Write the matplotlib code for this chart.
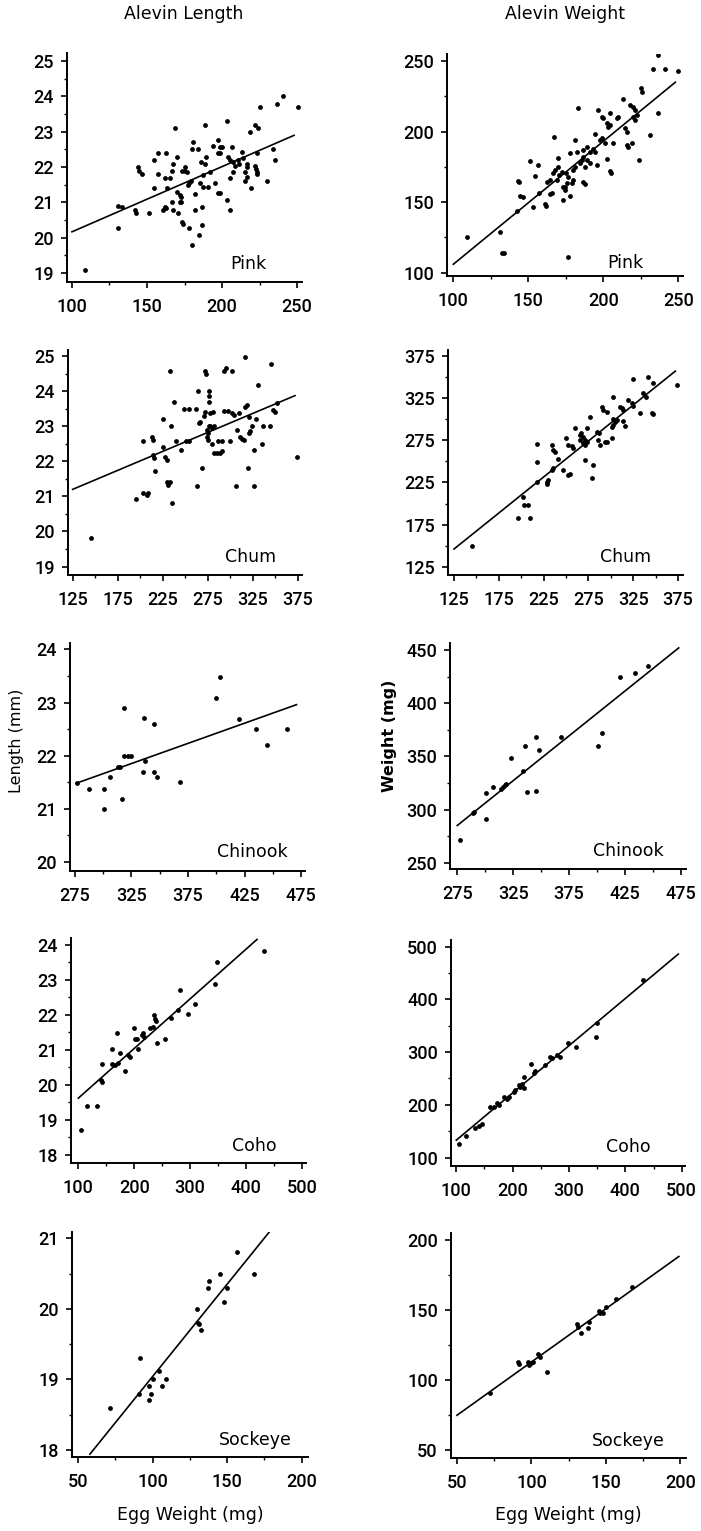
import matplotlib
matplotlib.use("Agg")
import matplotlib.pyplot as plt
from matplotlib.ticker import FixedLocator

W, H = 701, 1531

# ---------------- data ----------------
pink_len_x = [109,131,131,133.6,142,143,144,145,147,151.6,154.7,157.6,154.7,157.6,162.7,160.4,162,163.1,165.3,167.6,
              168.7,169.8,166.4,166.4,167.6,170.9,173.1,174.2,173,169.8,172,173.1,175.3,178,177,179,178.2,179.8,180.9,182,
              182,179.8,184.9,186.4,186.4,184.2,186,187,185,187.6,188.7,189.3,188.7,190.9,192,195.3,194.2,197.6,198.7,197.6,
              198.7,197.6,203.1,204.2,205,203.1,205.3,205.3,206.4,207.6,208.7,213,210.9,214,215,216.4,215,216.4,219,218.7,
              222,224,223.1,222,222.7,223,223,225,229.8,234.2,235,236.4,240.9,250.4,216.4,176.4,175.3,172,173,162,163,207.6,
              211.6,198.7,200]
pink_len_y = [19.1,20.28,20.9,20.88,20.8,20.7,22.0,21.9,21.8,20.7,21.4,21.8,22.2,22.4,22.4,20.8,20.88,21.4,21.7,22.1,
              23.1,22.3,21.9,21.0,20.8,20.7,20.45,20.4,21.0,21.3,21.2,21.9,21.9,21.55,21.5,21.6,20.28,19.8,22.7,21.25,
              20.8,22.5,20.08,20.88,20.36,22.5,22.15,21.44,21.56,21.77,23.2,22.3,22.1,21.44,21.87,21.56,22.6,21.27,21.27,22.4,
              22.4,22.78,23.3,22.3,22.2,21.08,20.8,21.7,22.58,22.15,22.04,22.43,22.2,22.25,21.87,21.73,21.6,22.0,21.4,23.0,
              23.2,23.1,22.4,22.03,21.96,21.87,21.8,23.7,21.6,22.5,22.2,23.8,24.0,23.7,22.1,21.87,22.0,21.0,21.16,21.7,20.83,21.87,
              22.1,22.58,22.58]
pink_wt_x = [108.9,131.1,132.2,133.8,143.3,144,144.4,146.7,142.2,151.1,154.4,153.3,156.7,157.3,161,162,162.2,164.4,165.5,167.1,
             166.7,167.8,170,168.9,170.7,172.2,173.3,176.7,170,177.8,174.4,175.6,177.8,175,176.7,178.9,180,180,181.1,181.1,
             183.3,184.4,185.6,186.7,186.7,187.8,187.8,188.9,186.7,188.9,191.1,193.3,194.4,194.4,195.6,196.7,198.9,200,197.8,198.9,
             201.1,202.2,202.2,203.3,204.4,204.4,204.9,206.7,208.9,210,213.3,214.4,215.6,215.6,216.7,218.9,217.8,220,221.1,220,
             221.1,222.2,223.8,225.1,225.6,231.1,236.7,232.9,236.7,241.1,250,173.3,174.4,164.4,204.4,191.1,182.2]
pink_wt_y = [125.5,128.6,113.7,113.7,165,164.5,154.6,153.4,144,178.9,168.5,146.3,176.3,156.7,149,147,164.5,155.8,156.7,196,
             170.4,172.8,175,165.7,169,171.6,151.5,111.3,181,154.3,161,163.8,184.6,170.4,168,163.3,165.7,172.8,175,194,
             216.5,177.5,180,182,164.5,163,175,180,187,189.3,185.7,188,185.7,198,176.3,215.3,210.6,209.4,194,195.2,
             191.7,180.3,205.8,203.5,204.7,172.3,170.4,191.7,209.4,210.6,223,202.3,200,190.5,189.3,191.7,218.8,217.6,215.3,210.6,
             208.2,211.7,180,230.6,228.3,197.6,213.4,244.1,254.3,244.1,243.2,160.5,158.6,165.7,213.4,177.5,185.7]

chum_len_x = [145.4,195.4,202.8,207.2,209,203.5,213.3,214.5,214.5,215.6,216.3,225.6,224.8,227.4,229.3,229.3,231,232.9,232.9,234,
              235.2,237.7,239.6,245.2,250.7,254.4,248.9,254.4,261.9,262.8,264,264.8,266.7,268.5,270.4,272.2,272.2,273.3,274,274.8,
              276,274,274.8,276,277,276,277.8,280.7,277.8,279.6,281.5,279.6,281.5,285.2,288.9,290.7,287,290.7,292.6,295.6,
              293.3,298.1,301.9,303.7,300,301.9,306.3,307.4,311.1,313,314.8,309.3,316.7,316.7,318.5,319.6,320.4,322.2,324.1,326,
              326,328.5,330.4,335.2,337,344.4,345.6,347.4,349.3,351.9,373.9,320.4]
chum_len_y = [19.81,20.92,21.1,21.04,21.1,22.58,22.7,22.6,22.18,22.1,21.73,23.2,22.42,22.13,22.04,21.4,21.33,21.42,24.58,23.0,
              20.82,23.7,22.59,22.32,22.59,22.59,23.5,23.5,23.5,21.3,24.0,23.08,23.13,21.8,23.3,23.39,24.56,24.49,22.9,22.8,
              23.0,22.7,22.6,24.0,23.86,23.7,23.37,23.39,23.0,22.94,23.0,22.5,22.23,22.23,22.23,22.28,22.59,22.59,24.58,24.65,
              23.42,23.42,23.37,23.32,22.59,24.58,21.3,22.9,22.7,22.63,22.6,23.37,24.96,23.56,23.61,21.8,22.8,22.85,23.0,22.32,
              21.3,23.2,24.18,22.5,23.0,23.0,24.77,23.46,23.39,23.67,22.13,23.27]
chum_wt_x = [144.7,196.1,202.4,208,203,209.8,217.3,217.3,217.3,228.4,229.2,230.3,234,235.9,234,235.9,237.7,241.4,247,250,
             252.6,254.5,252.6,256.3,258.2,260,265.6,267.3,265.6,269.3,271.2,273,269.3,271.2,271.2,273,276.8,278.6,280.5,284.2,
             287.2,286.1,288,289.8,291.7,295.4,293.5,295.4,300.9,302.8,300.9,302.8,304.6,306.5,302.8,310.3,312.1,314,314,315.8,
             319.6,323.3,325.1,325.1,332.6,336.3,338.9,341.9,345.6,347.5,346.7,373.5]
chum_wt_y = [149.5,182.3,208,198,198,182.3,225.8,249.6,270.5,225.8,223,227.8,239.7,241.6,269.3,263.6,261.3,252.6,239.7,277.2,
             233.7,234.7,269.2,268.4,266.4,289,281.2,283.2,275.3,279.2,275.3,273.3,271.3,269.3,251.5,289,302.1,229.8,245.6,285.1,
             283.2,275.3,269.3,314.8,310.8,308.9,273.3,273.3,291,293,277.2,299.8,297,299,325.9,314.8,312.8,310.8,298.2,291.9,
             322.7,318.8,315.6,347.2,306.9,330.6,325.9,350.4,306.9,306.1,343.3,340.5]

chinook_len_x = [277.1,287.7,301,301,306,313.3,314.8,316.9,318.4,318.4,322.2,324.3,334.9,336.1,336.9,344.9,344.9,347.3,367.9,399.8,
                 403.3,420.1,434.9,445.2,462.9]
chinook_len_y = [21.48,21.38,21.38,20.99,21.59,21.79,21.78,21.19,22.89,21.99,21.99,21.99,21.69,22.7,21.9,22.59,21.69,21.6,21.51,23.09,
                 23.48,22.69,22.5,22.21,22.5]
chinook_wt_x = [277.4,288.7,289.9,301.1,301.1,306.5,314.5,316,317.5,319,323.4,333.8,335.9,337.7,345.1,345.7,347.8,368,400.7,404.5,
                420.6,434.2,445.2]
chinook_wt_y = [271.3,296.4,297.3,315.8,290.8,321.5,319,320.8,323,324,348.1,336.5,360,316.5,368.5,317.7,356,368.5,359.7,371.6,
                424.9,428,435.3]

coho_len_x = [104.2,116.1,132.8,140,141.8,141.8,159.7,159.7,165.7,168.6,171.6,174.6,183.6,189.5,192.5,199.7,201.5,204.4,207.4,213.4,
              216.4,217.6,228.3,233.1,235.5,237.3,239.1,241.4,255.2,265.3,279,282,297,308.9,344.7,348.9,432.4]
coho_len_y = [18.71,19.41,19.41,20.14,20.09,20.59,21.01,20.59,20.56,21.49,20.61,20.9,20.39,20.85,20.8,21.61,21.32,21.3,21.01,21.42,
              21.49,21.37,21.61,21.64,21.99,21.89,21.83,21.2,21.32,21.92,22.13,22.72,22.02,22.3,22.89,23.51,23.81]
coho_wt_x = [105.3,117.7,133.7,139.6,145.5,160.3,166.2,172.1,175.1,183.9,189.8,192.8,201.7,204.6,210.5,213.5,216.4,219.4,219.4,233,
             237.1,240.1,257.8,266.7,269.6,278.5,283.2,298.6,311.6,348.2,349.3,432.2]
coho_wt_y = [125.3,140.5,156.3,159.5,163.3,196.2,195,202.6,199.4,215.2,212,215.2,224.7,227.9,237.4,234.2,239.3,231.1,253.2,276.6,
             260.8,264.6,275.4,291.2,288,294.4,291.2,316.5,310.2,329.2,354.5,436.8]

sockeye_len_x = [71.7,91,91.9,97.7,97.7,99.2,100.4,104.4,106.4,108.9,129.9,130.6,131.3,132.8,137.3,137.9,145.1,147.8,149.6,156.8,168]
sockeye_len_y = [18.6,18.8,19.31,18.9,18.71,18.8,19.01,19.12,18.91,19.01,20.0,19.8,19.79,19.7,20.3,20.4,20.5,20.1,20.3,20.8,20.5]
sockeye_wt_x = [71.9,91.2,91.9,97.9,98.6,99.5,100.8,104.6,105.7,110.6,130.7,131.4,133,138.1,138.8,145.4,146.3,148.1,149.9,156.6,167.7]
sockeye_wt_y = [90.7,113.2,111.3,113.2,110.8,112,112.7,118.6,116.7,106.1,139.9,138,133.7,136.8,141.6,149.4,147.5,147.9,152.2,157.4,166.4]

# regression line end points
fit_pink_len = ([100, 248], [20.17, 22.9])
fit_pink_wt = ([100, 248], [106, 235])
fit_chum_len = ([125, 372], [21.2, 23.87])
fit_chum_wt = ([125, 372], [146, 357])
fit_chinook_len = ([276, 471], [21.48, 22.96])
fit_chinook_wt = ([275, 473], [285, 452])
fit_coho_len = ([100, 420], [19.62, 24.15])
fit_coho_wt = ([100, 494], [133, 486])
fit_sockeye_len = ([58, 179], [17.94, 21.11])
fit_sockeye_wt = ([50, 199], [75, 188])

species = ["Pink", "Chum", "Chinook", "Coho", "Sockeye"]

# x ticks (major labelled, minor)
xt_pink = ([100, 150, 200, 250], [125, 175, 225])
xt_chum = ([125, 175, 225, 275, 325, 375], [150, 200, 250, 300, 350])
xt_chinook = ([275, 325, 375, 425, 475], [300, 350, 400, 450])
xt_coho = ([100, 200, 300, 400, 500], [150, 250, 350, 450])
xt_sockeye = ([50, 100, 150, 200], [75, 125, 175])

yt_len = [([19, 20, 21, 22, 23, 24, 25], [19.5, 20.5, 21.5, 22.5, 23.5, 24.5]),
          ([19, 20, 21, 22, 23, 24, 25], [19.5, 20.5, 21.5, 22.5, 23.5, 24.5]),
          ([20, 21, 22, 23, 24], [20.5, 21.5, 22.5, 23.5]),
          ([18, 19, 20, 21, 22, 23, 24], [18.5, 19.5, 20.5, 21.5, 22.5, 23.5]),
          ([18, 19, 20, 21], [18.5, 19.5, 20.5])]
yt_wt = [([100, 150, 200, 250], [125, 175, 225]),
         ([125, 175, 225, 275, 325, 375], [150, 200, 250, 300, 350]),
         ([250, 300, 350, 400, 450], [275, 325, 375, 425]),
         ([100, 200, 300, 400, 500], [150, 250, 350, 450]),
         ([50, 100, 150, 200], [75, 125, 175])]

# ---------------- layout ----------------
# pixel boxes (left, right, top, bottom) and limits
boxes_L = [(67, 302, 53, 282), (68, 302, 350, 575), (70, 305, 643, 871), (71, 306, 938, 1163), (72, 308, 1232, 1457)]
boxes_R = [(447, 683, 54, 276), (448, 683, 350, 575), (450, 686, 643, 869), (451, 685, 940, 1166), (451, 686, 1233, 1458)]
lims_L = [((96.7, 253.3), (18.75, 25.23)), ((119.8, 379.8), (18.76, 25.17)), ((270.6, 478.5), (19.83, 24.12)),
          ((86.9, 507.7), (17.77, 24.19)), ((46, 204.2), (17.9, 21.09))]
lims_R = [((95.8, 253.1), (97.7, 255)), ((118.3, 380.6), (115.2, 382.1)), ((268.5, 479.5), (244.1, 456.6)),
          ((90.6, 505.9), (84.0, 512.7)), ((46, 203.8), (44.6, 204.7))]

tick_font = ['Roboto', 'DejaVu Sans']
txt_font = ['DejaVu Sans']

fig = plt.figure(figsize=(W / 100, H / 100), dpi=100)
fig.patch.set_facecolor("white")


def make_ax(box, lims):
    l, r, t, b = box
    ax = fig.add_axes([l / W, 1 - b / H, (r - l) / W, (b - t) / H])
    ax.set_xlim(*lims[0])
    ax.set_ylim(*lims[1])
    for s in ["top", "right"]:
        ax.spines[s].set_visible(False)
    for s in ["left", "bottom"]:
        ax.spines[s].set_linewidth(1.4)
        ax.spines[s].set_color("black")
    ax.patch.set_alpha(0)
    return ax


def style_ticks(ax, xt, yt):
    ax.xaxis.set_major_locator(FixedLocator(xt[0]))
    ax.xaxis.set_minor_locator(FixedLocator(xt[1]))
    ax.yaxis.set_major_locator(FixedLocator(yt[0]))
    ax.yaxis.set_minor_locator(FixedLocator(yt[1]))
    ax.tick_params(which="major", direction="out", length=4.5, width=1.2, colors="black")
    ax.tick_params(which="minor", direction="out", length=2.5, width=1.0, colors="black")
    ax.tick_params(axis="x", which="major", pad=7)
    ax.tick_params(axis="y", which="major", pad=5)
    for lab in ax.get_xticklabels() + ax.get_yticklabels():
        lab.set_family(tick_font)
        lab.set_fontsize(13)
        lab.set_fontweight("medium")


len_x = [pink_len_x, chum_len_x, chinook_len_x, coho_len_x, sockeye_len_x]
len_y = [pink_len_y, chum_len_y, chinook_len_y, coho_len_y, sockeye_len_y]
wt_x = [pink_wt_x, chum_wt_x, chinook_wt_x, coho_wt_x, sockeye_wt_x]
wt_y = [pink_wt_y, chum_wt_y, chinook_wt_y, coho_wt_y, sockeye_wt_y]
fits_len = [fit_pink_len, fit_chum_len, fit_chinook_len, fit_coho_len, fit_sockeye_len]
fits_wt = [fit_pink_wt, fit_chum_wt, fit_chinook_wt, fit_coho_wt, fit_sockeye_wt]
xts = [xt_pink, xt_chum, xt_chinook, xt_coho, xt_sockeye]

# species label centre positions in pixels (x centre, y centre)
lab_L = [(248, 264), (251, 557), (252, 852), (254, 1146), (255, 1440)]
lab_R = [(625, 263), (626, 557), (628, 851), (628, 1147), (628, 1441)]

for i in range(5):
    for side in range(2):
        if side == 0:
            ax = make_ax(boxes_L[i], lims_L[i])
            xs, ys, fit, yt, lab = len_x[i], len_y[i], fits_len[i], yt_len[i], lab_L[i]
        else:
            ax = make_ax(boxes_R[i], lims_R[i])
            xs, ys, fit, yt, lab = wt_x[i], wt_y[i], fits_wt[i], yt_wt[i], lab_R[i]
        ax.scatter(xs, ys, s=12, marker="o", color="black", linewidths=0, zorder=3)
        ax.plot(fit[0], fit[1], color="black", lw=1.2, zorder=2)
        style_ticks(ax, xts[i], yt)
        fig.text(lab[0] / W, 1 - lab[1] / H, species[i], ha="center", va="center",
                 fontsize=12.5, family=txt_font)

# headers and axis labels
fig.text(184 / W, 1 - 14 / H, "Alevin Length", ha="center", va="center", fontsize=12.5, family=txt_font)
fig.text(565 / W, 1 - 14 / H, "Alevin Weight", ha="center", va="center", fontsize=12.5, family=txt_font)
fig.text(17 / W, 1 - 741 / H, "Length (mm)", rotation=90, ha="center", va="center", fontsize=11.5, family=txt_font)
fig.text(389 / W, 1 - 736 / H, "Weight (mg)", rotation=90, ha="center", va="center", fontsize=11.5,
         family=txt_font, weight="bold")
fig.text(190 / W, 1 - 1515 / H, "Egg Weight (mg)", ha="center", va="center", fontsize=12.5, family=txt_font)
fig.text(568 / W, 1 - 1515 / H, "Egg Weight (mg)", ha="center", va="center", fontsize=12.5, family=txt_font)

fig.savefig("out.png", dpi=100, facecolor="white")
